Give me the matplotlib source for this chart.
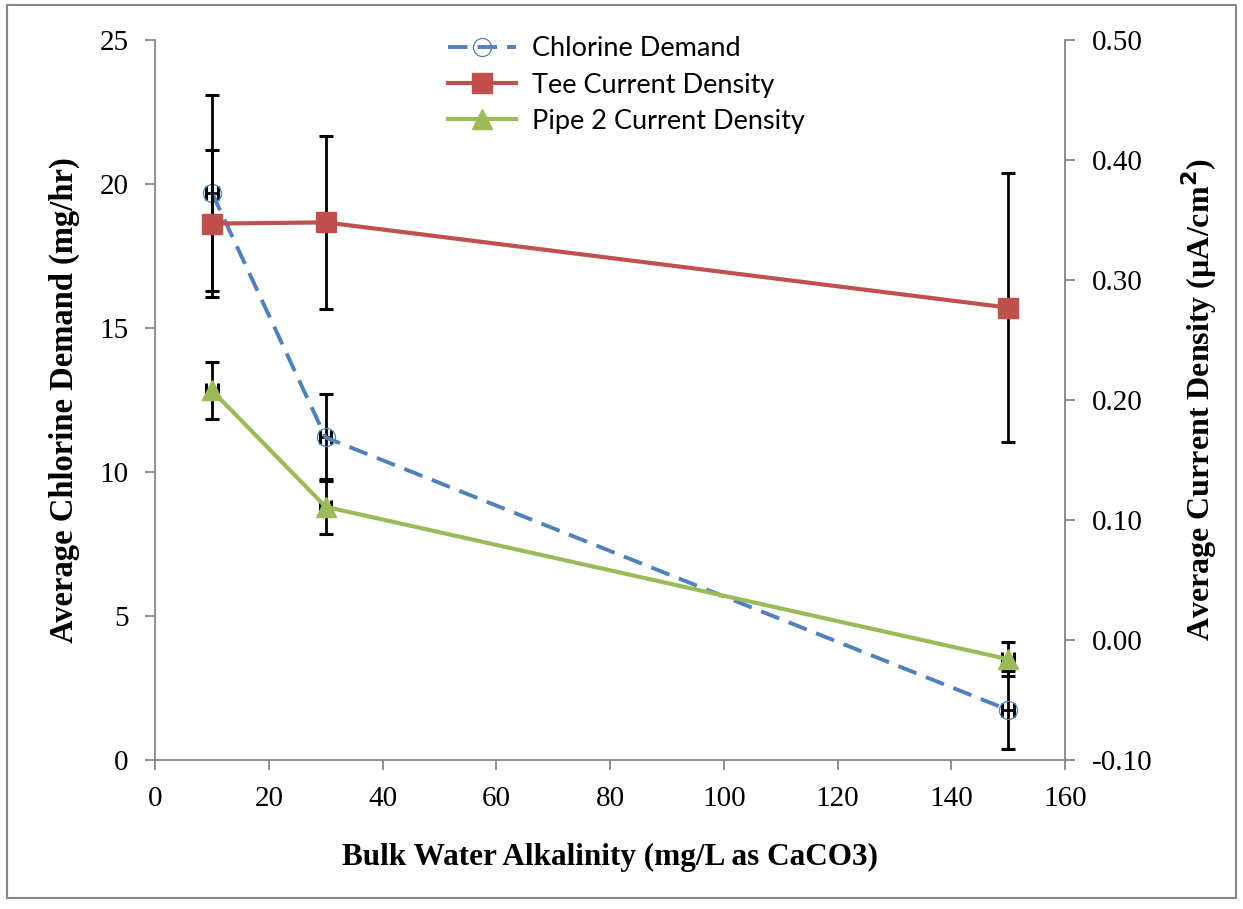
import matplotlib
matplotlib.use("Agg")
import matplotlib.pyplot as plt
from matplotlib.patches import Rectangle

# Data
alkalinity = [10, 30, 150]
chlorine_demand = [19.7, 11.2, 1.74]
chlorine_err = [3.4, 1.5, 1.35]
tee_density = [0.347, 0.348, 0.277]
tee_err = [0.061, 0.072, 0.112]
pipe2_density = [0.208, 0.111, -0.016]
pipe2_err = [0.024, 0.023, 0.014]
x_err = [1.0, 1.0, 1.0]

left_ticks = [0, 5, 10, 15, 20, 25]
right_ticks = [-0.10, 0.00, 0.10, 0.20, 0.30, 0.40, 0.50]
x_ticks = [0, 20, 40, 60, 80, 100, 120, 140, 160]

blue = "#4F81BD"
red = "#C0504D"
green = "#9BBB59"
grey = "#868686"

serif = "Liberation Serif"
sans = "Lato"

fig = plt.figure(figsize=(12.43, 9.09), dpi=100)
fig.patches.append(Rectangle((0.006, 0.012), 0.988, 0.983, transform=fig.transFigure,
                             fill=False, edgecolor=grey, linewidth=1.5))
ax = fig.add_axes([0.1247, 0.1639, 0.7321, 0.7921])
ax2 = ax.twinx()

eb_kw = dict(ecolor="black", elinewidth=2.0, capsize=5, capthick=2.2)

# Chlorine demand (left axis)
ax.errorbar(alkalinity, chlorine_demand, yerr=chlorine_err, xerr=x_err, fmt="none", **eb_kw, zorder=2)
cl_line, = ax.plot(alkalinity, chlorine_demand, color=blue, linewidth=2.8, dashes=(5, 2.6),
                   marker="o", markersize=13, markerfacecolor="none", markeredgecolor=blue,
                   markeredgewidth=0.9, zorder=3, label="Chlorine Demand")

# Current densities (right axis)
ax2.errorbar(alkalinity, tee_density, yerr=tee_err, xerr=x_err, fmt="none", **eb_kw, zorder=2)
tee_line, = ax2.plot(alkalinity, tee_density, color=red, linewidth=3.0, marker="s",
                     markersize=14, zorder=3, label="Tee Current Density")
ax2.errorbar(alkalinity, pipe2_density, yerr=pipe2_err, xerr=x_err, fmt="none", **eb_kw, zorder=2)
pipe_line, = ax2.plot(alkalinity, pipe2_density, color=green, linewidth=3.0, marker="^",
                      markersize=15, zorder=3, label="Pipe 2 Current Density")

ax.set_xlim(0, 160)
ax.set_ylim(0, 25)
ax2.set_ylim(-0.10, 0.50)
ax.set_xticks(x_ticks)
ax.set_yticks(left_ticks)
ax2.set_yticks(right_ticks)
ax2.set_yticklabels([f"{v:.2f}" for v in right_ticks])

for a in (ax, ax2):
    a.spines["top"].set_visible(False)
    for s in ("left", "right", "bottom"):
        a.spines[s].set_color(grey)
        a.spines[s].set_linewidth(1.3)
    a.tick_params(direction="out", length=7, width=1.3, color=grey,
                  labelsize=21, pad=12)
    for lbl in a.get_xticklabels() + a.get_yticklabels():
        lbl.set_fontfamily(serif)
ax2.spines["left"].set_visible(False)
ax2.spines["bottom"].set_visible(False)
ax.spines["right"].set_visible(False)

ax.set_xlabel("Bulk Water Alkalinity (mg/L as CaCO3)", fontsize=22.5, fontweight="bold",
              fontfamily=serif, labelpad=22)
ax.set_ylabel("Average Chlorine Demand (mg/hr)", fontsize=23.5, fontweight="bold",
              fontfamily=serif, labelpad=14)
ax2.set_ylabel("Average Current Density (µA/cm$^\\mathbf{2}$)", fontsize=23, fontweight="bold",
               fontfamily=serif, labelpad=20)

leg = fig.legend(handles=[cl_line, tee_line, pipe_line], loc="upper left",
                 bbox_to_anchor=(0.341, 0.987), frameon=False, numpoints=1,
                 prop={"family": sans, "size": 19.5}, handlelength=2.5,
                 labelspacing=0.42, handletextpad=0.6)

fig.savefig("out.png", dpi=100)
